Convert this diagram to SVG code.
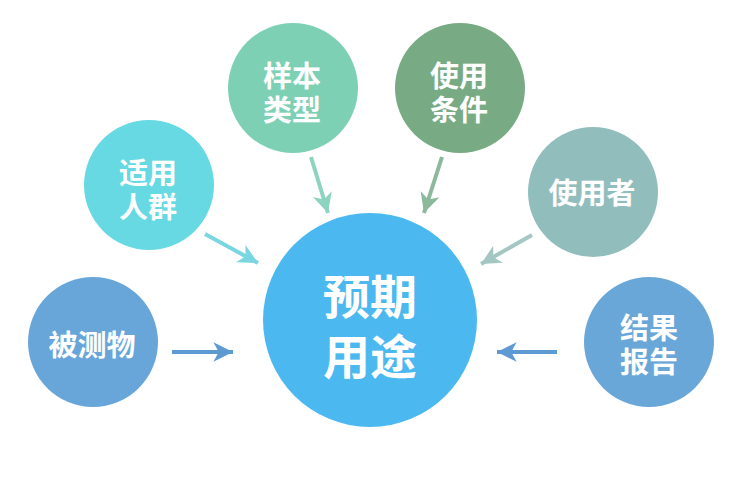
<svg xmlns="http://www.w3.org/2000/svg" width="747" height="479" viewBox="0 0 747 479">
<style>
text{font-family:"Noto Sans CJK SC","Noto Sans",sans-serif;font-weight:700;fill:#fff;text-anchor:middle;dominant-baseline:central}
.s{font-size:29px}
.b{font-size:47px}
.ln{stroke-width:4;fill:none}
</style>
<defs>
<marker id="m1" markerUnits="userSpaceOnUse" markerWidth="24" markerHeight="24" viewBox="-2 -10 22 20" refX="18" refY="0" orient="auto"><path d="M0,-9 L18,0 L0,9 L5,0 z" fill="#5d9ad2"/></marker>
<marker id="m2" markerUnits="userSpaceOnUse" markerWidth="24" markerHeight="24" viewBox="-2 -10 22 20" refX="18" refY="0" orient="auto"><path d="M0,-9 L18,0 L0,9 L5,0 z" fill="#7ad6e0"/></marker>
<marker id="m3" markerUnits="userSpaceOnUse" markerWidth="24" markerHeight="24" viewBox="-2 -10 22 20" refX="18" refY="0" orient="auto"><path d="M0,-9 L18,0 L0,9 L5,0 z" fill="#8cd3c0"/></marker>
<marker id="m4" markerUnits="userSpaceOnUse" markerWidth="24" markerHeight="24" viewBox="-2 -10 22 20" refX="18" refY="0" orient="auto"><path d="M0,-9 L18,0 L0,9 L5,0 z" fill="#8cb89c"/></marker>
<marker id="m5" markerUnits="userSpaceOnUse" markerWidth="24" markerHeight="24" viewBox="-2 -10 22 20" refX="18" refY="0" orient="auto"><path d="M0,-9 L18,0 L0,9 L5,0 z" fill="#a5c7c4"/></marker>
</defs>
<rect width="747" height="479" fill="#fff"/>
<g id="connectors">
<line class="ln" x1="172" y1="352" x2="233" y2="352" stroke="#5d9ad2" marker-end="url(#m1)"/>
<line class="ln" x1="205" y1="234" x2="258" y2="263" stroke="#7ad6e0" marker-end="url(#m2)"/>
<line class="ln" x1="311" y1="157" x2="328" y2="213" stroke="#8cd3c0" marker-end="url(#m3)"/>
<line class="ln" x1="442" y1="157" x2="424" y2="213" stroke="#8cb89c" marker-end="url(#m4)"/>
<line class="ln" x1="532" y1="235" x2="481" y2="264" stroke="#a5c7c4" marker-end="url(#m5)"/>
<line class="ln" x1="557" y1="352" x2="497" y2="352" stroke="#5d9ad2" marker-end="url(#m1)"/>
</g>
<g id="center">
<circle cx="370" cy="320" r="107" fill="#4bb9ef"/>
<text class="b" x="370" y="293">预期</text>
<text class="b" x="370" y="353">用途</text>
</g>
<g id="beicewu">
<circle cx="93" cy="342" r="65" fill="#68a6d9"/>
<text class="s" x="92" y="343">被测物</text>
</g>
<g id="shiyongrenqun">
<circle cx="149" cy="185" r="65" fill="#66d9e3"/>
<text class="s" x="148" y="171">适用</text>
<text class="s" x="148" y="205">人群</text>
</g>
<g id="yangbenleixing">
<circle cx="293" cy="88" r="65" fill="#7ed0b5"/>
<text class="s" x="292" y="74">样本</text>
<text class="s" x="292" y="108">类型</text>
</g>
<g id="shiyongtiaojian">
<circle cx="460" cy="88" r="65" fill="#78ab84"/>
<text class="s" x="459" y="74">使用</text>
<text class="s" x="459" y="108">条件</text>
</g>
<g id="shiyongzhe">
<circle cx="593" cy="192" r="65" fill="#92bdbd"/>
<text class="s" x="592" y="191">使用者</text>
</g>
<g id="jieguobaogao">
<circle cx="649" cy="342" r="65" fill="#6aa7d9"/>
<text class="s" x="649" y="326">结果</text>
<text class="s" x="649" y="360">报告</text>
</g>
</svg>
